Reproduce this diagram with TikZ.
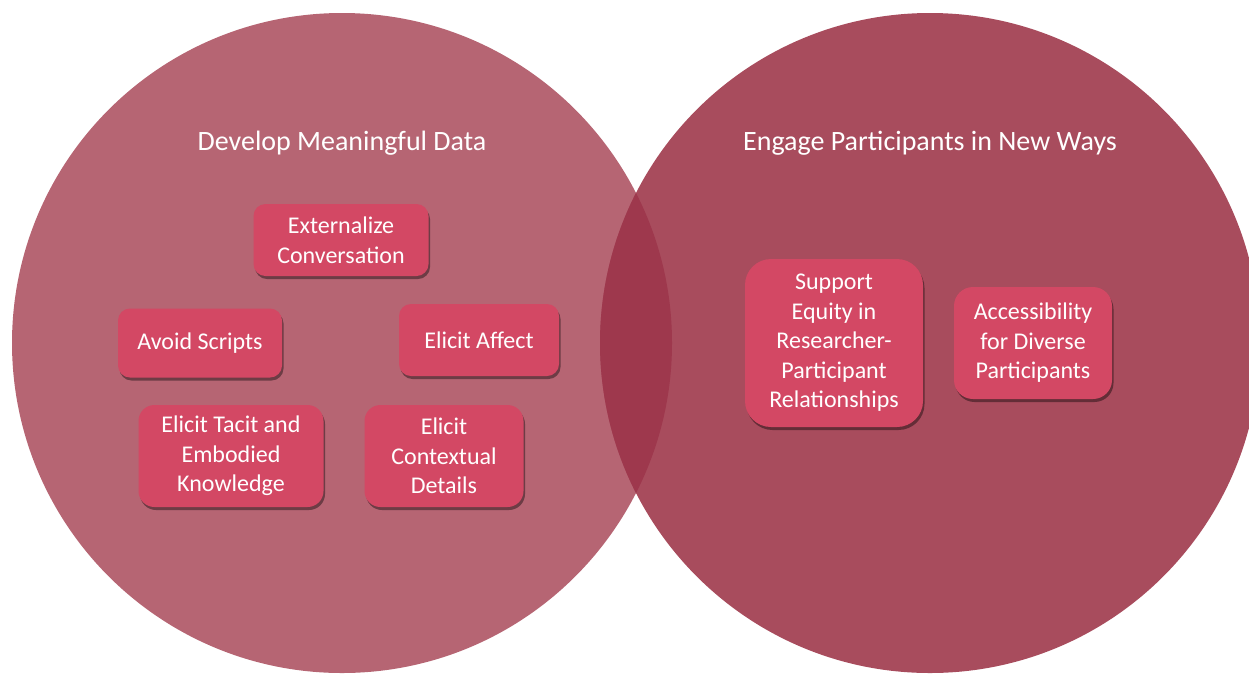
\documentclass[tikz,border=0pt]{standalone}
\usepackage{fontspec}
\setmainfont{Carlito}
\usetikzlibrary{shadows}

\definecolor{dataset}{HTML}{B66573}
\definecolor{engageset}{HTML}{A84C5D}
\definecolor{bothsets}{HTML}{9E384D}
\definecolor{boxred}{HTML}{D34864}

\begin{document}
\begin{tikzpicture}[x=1pt,y=-1pt,
  setlabel/.style={text=white,font=\fontsize{28}{34}\selectfont},
  item/.style={fill=boxred,text=white,align=center,inner sep=0pt,
    rounded corners=12pt,font=\fontsize{24}{29.5}\selectfont,
    drop shadow={shadow xshift=1.5pt,shadow yshift=-3pt,opacity=0.4,fill=black}}]
  \useasboundingbox (0,0) rectangle (1249,673);
  \clip (0,0) rectangle (1249,673);
  % the two sets and their overlap
  \fill[dataset] (342,343) circle[radius=330pt];
  \fill[engageset] (930,343) circle[radius=330pt];
  \begin{scope}
    \clip (342,343) circle[radius=330pt];
    \fill[bothsets] (930,343) circle[radius=330pt];
  \end{scope}
  \node[setlabel] (datatitle) at (342,143) {Develop Meaningful Data};
  \node[setlabel] (engagetitle) at (930,143) {Engage Participants in New Ways};
  % left set
  \node[item,minimum width=175pt,minimum height=72pt] (extern) at (341,240) {Externalize\\Conversation};
  \node[item,minimum width=164pt,minimum height=69pt] (avoid) at (200,343) {Avoid Scripts};
  \node[item,minimum width=160pt,minimum height=72pt] (affect) at (479,340) {Elicit Affect};
  \node[item,minimum width=185pt,minimum height=102pt,rounded corners=16pt] (tacit) at (231,456) {Elicit Tacit and\\Embodied\\Knowledge};
  \node[item,minimum width=159pt,minimum height=102pt,rounded corners=16pt] (context) at (444,456) {Elicit\\Contextual\\Details};
  % right set
  \node[item,minimum width=178pt,minimum height=168pt,rounded corners=26pt] (equity) at (834,343) {Support\\Equity in\\Researcher-\\Participant\\Relationships};
  \node[item,minimum width=158pt,minimum height=112pt,rounded corners=19pt] (access) at (1033,343) {Accessibility\\for Diverse\\Participants};
\end{tikzpicture}
\end{document}
